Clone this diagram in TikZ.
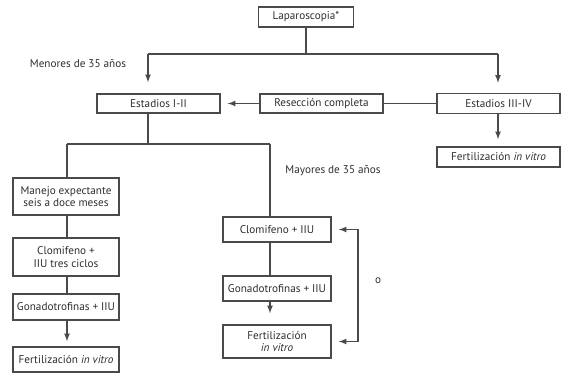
\documentclass[tikz,border=0pt]{standalone}
\usepackage{fontspec}
\setmainfont{PT Sans}
\usepackage{tikz}
\usetikzlibrary{arrows}

\definecolor{trazo}{HTML}{4A4A4A}
\definecolor{letra}{HTML}{2E2E2E}

\tikzset{
  caja/.style={draw=trazo, line width=1.6pt, inner sep=0pt, align=center, text=letra, font=\fontsize{11.2}{12.4}\selectfont},
  linea/.style={draw=trazo, line width=1.6pt},
  flecha/.style={linea, -latex},
  rotulo/.style={text=letra, font=\fontsize{11.2}{12.4}\selectfont}
}

\begin{document}
\begin{tikzpicture}[x=1pt,y=-1pt]
\useasboundingbox (0,0) rectangle (563,374);

% las cajas
\node[caja, minimum width=95, minimum height=20] (lap) at (306,17) {Laparoscopia*};
\node[caja, minimum width=123, minimum height=19] (e12) at (158.5,103.5) {Estadios I-II};
\node[caja, minimum width=123, minimum height=19] (res) at (321.5,103.5) {Resección completa};
\node[caja, minimum width=123, minimum height=20] (e34) at (498.5,103.5) {Estadios III-IV};
\node[caja, minimum width=123, minimum height=20] (fiv1) at (498.5,157) {Fertilización \textit{in vitro}};

\node[caja, minimum width=106, minimum height=37] (man) at (66,196.5) {Manejo expectante\\seis a doce meses};
\node[caja, minimum width=106, minimum height=38] (clo1) at (66,257) {Clomifeno +\\IIU tres ciclos};
\node[caja, minimum width=106, minimum height=26] (gon1) at (66,307) {Gonadotrofinas + IIU};
\node[caja, minimum width=106, minimum height=25] (fiv2) at (66,359.5) {Fertilización \textit{in vitro}};

\node[caja, minimum width=108, minimum height=25] (clo2) at (277,229.5) {Clomifeno + IIU};
\node[caja, minimum width=108, minimum height=25] (gon2) at (277,288.5) {Gonadotrofinas + IIU};
\node[caja, minimum width=108, minimum height=33] (fiv3) at (277,341.5) {Fertilización\\\textit{in vitro}};

% rotulos
\node[rotulo] (menores) at (78,64) {Menores de 35 años};
\node[rotulo] (mayores) at (333,171) {Mayores de 35 años};
\node[rotulo] (o) at (378,281) {o};

% puntos de cruce
\coordinate (izq) at (148,54);
\coordinate (der) at (498,54);
\coordinate (ramaI) at (67,144);
\coordinate (ramaD) at (270,144);

\draw[linea] (lap.south) -- (lap.south |- izq);
\draw[linea] (izq) -- (der);
\draw[flecha, shorten >=11pt] (izq) -- (izq |- e12.north);
\draw[flecha, shorten >=10pt] (der) -- (der |- e34.north);
\draw[flecha, shorten >=7pt] (res.west) -- (e12.east);
\draw[linea] (res.east) -- (e34.west);
\draw[flecha, shorten >=7pt] (e34.south -| der) -- (der |- fiv1.north);

\draw[linea] (e12.south -| izq) -- (izq |- ramaI);
\draw[linea] (ramaI) -- (ramaD);
\draw[linea] (ramaI) -- (ramaI |- man.north);
\draw[linea] (ramaD) -- (ramaD |- clo2.north);

% rama izquierda
\draw[linea] (man.south -| ramaI) -- (ramaI |- clo1.north);
\draw[linea] (clo1.south -| ramaI) -- (ramaI |- gon1.north);
\draw[flecha, shorten >=5pt] (gon1.south -| ramaI) -- (ramaI |- fiv2.north);

% rama derecha
\draw[linea] (clo2.south -| ramaD) -- (ramaD |- gon2.north);
\draw[flecha, shorten >=11pt] (gon2.south -| ramaD) -- (ramaD |- fiv3.north);
\draw[linea, latex-latex, shorten <=7pt, shorten >=7pt] (clo2.east) -- ++(26,0) |- (fiv3.east);
\end{tikzpicture}
\end{document}
